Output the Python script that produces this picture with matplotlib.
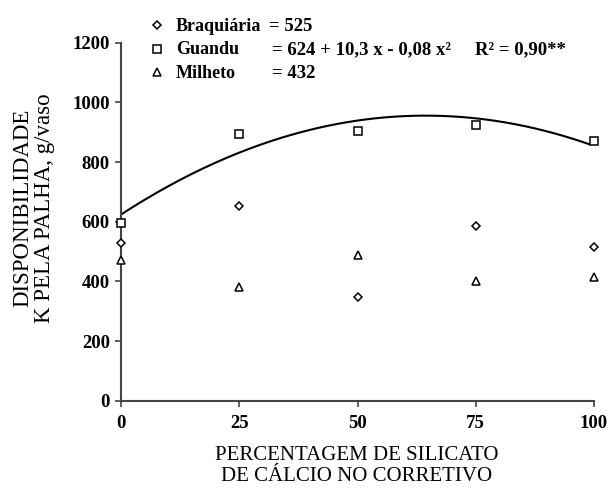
import numpy as np
import matplotlib
matplotlib.use("Agg")
import matplotlib.pyplot as plt
from matplotlib.lines import Line2D

plt.rcParams['font.family'] = ['Liberation Serif', 'DejaVu Serif']

# Doses of calcium silicate in the corrective (%)
doses = [0, 25, 50, 75, 100]
braquiaria = [528, 653, 347, 584, 514]
guandu = [596, 895, 904, 923, 869]
milheto = [472, 380, 487, 400, 416]

# Guandu regression: y = 624 + 10.3x - 0.08x^2
coef = [624, 10.3, -0.08]

x_ticks = [0, 25, 50, 75, 100]
y_ticks = [0, 200, 400, 600, 800, 1000, 1200]

fig = plt.figure(figsize=(6.12, 4.88), dpi=100)
ax = fig.add_axes([121 / 612, 1 - 400.7 / 488, 473 / 612, 358 / 488])

mk = dict(linestyle='none', markerfacecolor='white', markeredgecolor='black',
          markeredgewidth=1.1, clip_on=False, zorder=3)
ax.plot(doses, braquiaria, marker='D', markersize=4.5, **mk)
ax.plot(doses, guandu, marker='s', markersize=5.5, **mk)
ax.plot(doses, milheto, marker='^', markersize=6, **mk)

xs = np.linspace(0, 99, 200)
ax.plot(xs, coef[0] + coef[1] * xs + coef[2] * xs ** 2, color='black', lw=1.5)

ax.set_xlim(0, 100)
ax.set_ylim(0, 1200)
ax.set_xticks(x_ticks)
ax.set_yticks(y_ticks)
ax.tick_params(labelsize=13.5, length=4, width=1.2, color='#444444')
ax.tick_params(axis='x', pad=6)
ax.tick_params(axis='y', pad=4)
for lab in ax.get_xticklabels() + ax.get_yticklabels():
    lab.set_fontweight('bold')
for s in ['top', 'right']:
    ax.spines[s].set_visible(False)
for s in ['left', 'bottom']:
    ax.spines[s].set_color('#444444')
    ax.spines[s].set_linewidth(1.5)

fig.text(357 / 612, 1 - 466 / 488, 'PERCENTAGEM DE SILICATO\nDE CÁLCIO NO CORRETIVO',
         ha='center', va='center', fontsize=15, linespacing=1.12)
fig.text(34 / 612, 1 - 208 / 488, 'DISPONIBILIDADE\nK PELA PALHA, g/vaso', rotation=90,
         ha='center', va='center', fontsize=16.5, linespacing=1.05,
         multialignment='center')

# Legend with regression equations
rows = [('D', 4.5, 'Braquiária', '= 525', 269),
        ('s', 5.5, 'Guandu', '= 624 + 10,3 x - 0,08 x²', 272),
        ('^', 6, 'Milheto', '= 432', 272)]
for i, (m, ms, name, eq, xe) in enumerate(rows):
    yb = 1 - (31 + 23.5 * i) / 488
    fig.add_artist(Line2D([157 / 612], [yb + 6 / 488], marker=m, markersize=ms,
                          linestyle='none', markerfacecolor='white',
                          markeredgecolor='black', markeredgewidth=1.1,
                          transform=fig.transFigure))
    fig.text(176 / 612, yb, name, ha='left', va='baseline', fontsize=13,
             fontweight='bold')
    fig.text(xe / 612, yb, eq, ha='left', va='baseline', fontsize=13.5,
             fontweight='bold')
fig.text(475 / 612, 1 - 54.5 / 488, 'R² = 0,90**', ha='left', va='baseline',
         fontsize=13.5, fontweight='bold')

fig.savefig('out.png', dpi=100)
